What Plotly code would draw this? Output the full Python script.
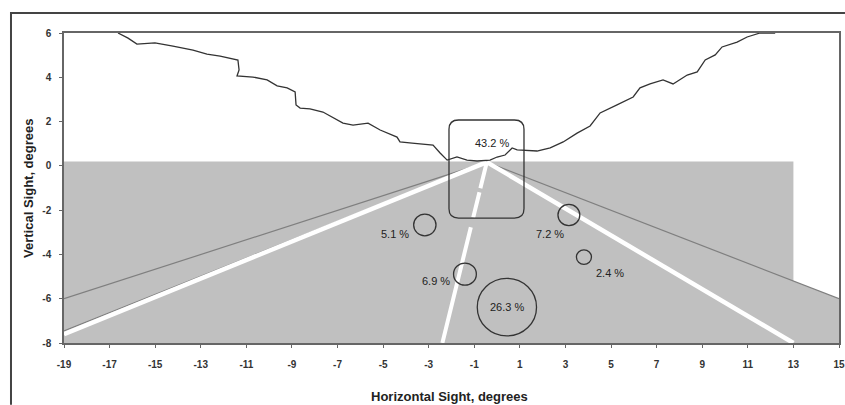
import plotly.graph_objects as go

# Horizon / skyline profile (degrees)
sky_x = [-16.63, -16.19, -15.80, -15.01, -14.22, -13.34, -12.73, -12.15, -11.37, -11.32,
         -11.41, -10.71, -10.09, -9.65, -9.21, -8.86, -8.82, -8.64, -8.21, -7.64,
         -6.76, -6.32, -5.66, -5.13, -4.39, -4.26, -3.73, -2.81, -2.50, -2.19,
         -1.76, -1.32, -0.88, -0.31, 0.00, 0.35, 0.66, 0.88, 1.75, 2.33,
         2.90, 3.51, 4.08, 4.52, 5.26, 5.97, 6.27, 6.71, 7.28, 7.72,
         8.34, 8.78, 9.13, 9.57, 9.87, 10.53, 10.97, 11.54, 12.20]
sky_y = [6.00, 5.77, 5.50, 5.55, 5.41, 5.23, 5.05, 4.96, 4.78, 4.33,
         4.06, 4.01, 3.88, 3.61, 3.52, 3.34, 2.75, 2.61, 2.57, 2.43,
         1.93, 1.84, 1.93, 1.62, 1.30, 1.08, 1.03, 0.94, 0.58, 0.26,
         0.40, 0.26, 0.22, 0.26, 0.40, 0.49, 0.81, 0.72, 0.67, 0.81,
         1.08, 1.48, 1.80, 2.39, 2.75, 3.11, 3.52, 3.70, 3.88, 3.70,
         4.10, 4.24, 4.78, 5.01, 5.37, 5.59, 5.82, 6.00, 6.00]

# Road surface outline
road_x = [-19, -19, 13, 13, 15, 15]
road_y = [-8, 0.2, 0.2, -5.2, -6, -8]

# Vanishing point and road line end points
vp = (-0.45, 0.17)
gray_ends = [(-19, -6.0), (-19, -7.45), (15, -6.0)]
white_ends = [(-19, -7.6), (13, -8.0)]
center_end = (-2.4, -8.0)

# Glance areas: centre, radius (degrees) and share of glances
glance_x = [-3.17, -1.41, 0.43, 3.15, 3.81]
glance_y = [-2.67, -4.89, -6.38, -2.22, -4.12]
glance_r = [0.49, 0.50, 1.30, 0.48, 0.33]
glance_share = [5.1, 6.9, 26.3, 7.2, 2.4]
label_x = [-4.48, -2.68, 0.44, 2.32, 4.96]
label_y = [-3.08, -5.20, -6.38, -3.08, -4.84]

# Central (road ahead) area
centre_box = (-2.11, 1.18, -2.36, 2.07)
centre_share = 43.2
centre_label = (-0.22, 1.03)

x_ticks = list(range(-19, 16, 2))
y_ticks = list(range(-8, 7, 2))

FONT = "Liberation Sans, Arial, sans-serif"
INK = "#333333"

fig = go.Figure()

fig.add_trace(go.Scatter(x=road_x, y=road_y, fill="toself", fillcolor="#c0c0c0",
                         mode="none", hoverinfo="skip", showlegend=False))

for ex, ey in gray_ends:
    fig.add_trace(go.Scatter(x=[vp[0], ex], y=[vp[1], ey], mode="lines",
                             line=dict(color="#7f7f7f", width=1.2),
                             hoverinfo="skip", showlegend=False))

for ex, ey in white_ends:
    fig.add_trace(go.Scatter(x=[vp[0], ex], y=[vp[1], ey], mode="lines",
                             line=dict(color="white", width=4.5),
                             hoverinfo="skip", showlegend=False))

fig.add_trace(go.Scatter(x=[vp[0], center_end[0]], y=[vp[1], center_end[1]], mode="lines",
                         line=dict(color="white", width=4, dash="27px,4px,26px,10px,400px"),
                         hoverinfo="skip", showlegend=False))

fig.add_trace(go.Scatter(x=sky_x, y=sky_y, mode="lines",
                         line=dict(color=INK, width=1.3),
                         hoverinfo="skip", showlegend=False))

shapes = []
for cx, cy, r in zip(glance_x, glance_y, glance_r):
    shapes.append(dict(type="circle", xref="x", yref="y",
                       x0=cx - r, x1=cx + r, y0=cy - r, y1=cy + r,
                       line=dict(color=INK, width=1.3)))

# Rounded rectangle around the central area
bx0, bx1, by0, by1 = centre_box
rc = 0.42
path = (f"M {bx0 + rc},{by1} L {bx1 - rc},{by1} Q {bx1},{by1} {bx1},{by1 - rc} "
        f"L {bx1},{by0 + rc} Q {bx1},{by0} {bx1 - rc},{by0} "
        f"L {bx0 + rc},{by0} Q {bx0},{by0} {bx0},{by0 + rc} "
        f"L {bx0},{by1 - rc} Q {bx0},{by1} {bx0 + rc},{by1} Z")
shapes.append(dict(type="path", xref="x", yref="y", path=path,
                   line=dict(color=INK, width=1.3)))

# Outer frame (left and top edges, kept inside the page)
shapes.append(dict(type="path", xref="paper", yref="paper",
                   path="M -0.0684,-0.199 L -0.0684,1.0645 L 1.0077,1.0645",
                   line=dict(color="#444444", width=2)))

annotations = []
for lx, ly, s in zip(label_x, label_y, glance_share):
    annotations.append(dict(x=lx, y=ly, xref="x", yref="y", text=f"{s:.1f} %",
                            showarrow=False, font=dict(family=FONT, size=11, color="#222222")))
annotations.append(dict(x=centre_label[0], y=centre_label[1], xref="x", yref="y",
                        text=f"{centre_share:.1f} %", showarrow=False,
                        font=dict(family=FONT, size=11, color="#222222")))

annotations.append(dict(x=0.497, y=-0.174, xref="paper", yref="paper",
                        text="<b>Horizontal Sight, degrees</b>", showarrow=False,
                        yanchor="middle", font=dict(family=FONT, size=13, color="#222222")))
annotations.append(dict(x=-0.0465, y=0.5, xref="paper", yref="paper",
                        text="<b>Vertical Sight, degrees</b>", showarrow=False,
                        textangle=-90, xanchor="center", yanchor="middle",
                        font=dict(family=FONT, size=13, color="#222222")))

fig.update_layout(
    width=845, height=405, autosize=False,
    margin=dict(l=64, r=6, t=33, b=62, autoexpand=False),
    paper_bgcolor="white", plot_bgcolor="white",
    shapes=shapes, annotations=annotations,
    showlegend=False,
)

fig.update_xaxes(range=[-19, 15], tickvals=x_ticks, ticktext=[f"<b>{v}</b>" for v in x_ticks],
                 showgrid=False, zeroline=False, showline=True, mirror=True,
                 linecolor="#666666", linewidth=1.5, ticks="outside", ticklen=3,
                 tickcolor="#666666", ticklabelstandoff=8,
                 tickfont=dict(family=FONT, size=10, color="#333333"))
fig.update_yaxes(range=[-8, 6], tickvals=y_ticks, ticktext=[f"<b>{v}</b>" for v in y_ticks],
                 showgrid=False, zeroline=False, showline=True, mirror=True,
                 linecolor="#666666", linewidth=1.5, ticks="outside", ticklen=3,
                 tickcolor="#666666", ticklabelstandoff=6,
                 tickfont=dict(family=FONT, size=10, color="#333333"))

fig.write_html("out.html", config={"displayModeBar": False})
